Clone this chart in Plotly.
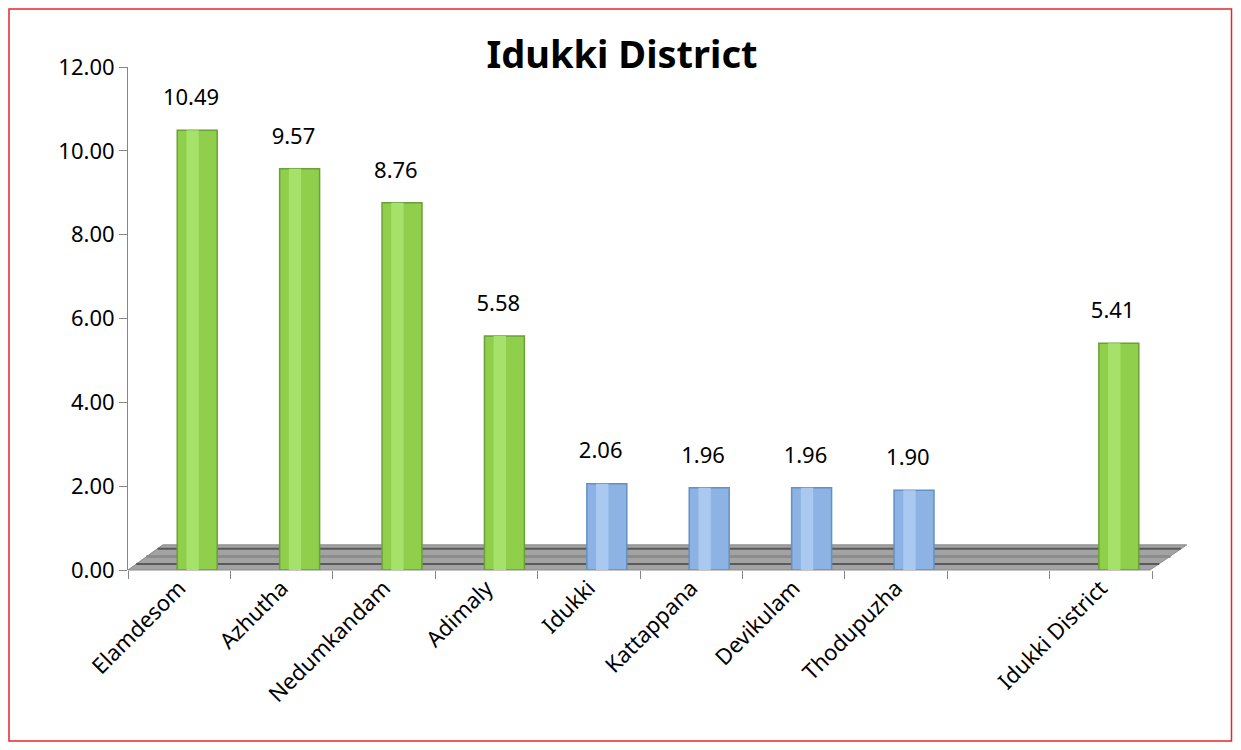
import plotly.graph_objects as go

categories = ["Elamdesom", "Azhutha", "Nedumkandam", "Adimaly", "Idukki",
              "Kattappana", "Devikulam", "Thodupuzha", " ", "Idukki District"]
values = [10.49, 9.57, 8.76, 5.58, 2.06, 1.96, 1.96, 1.90, None, 5.41]
groups = ["high", "high", "high", "high", "low", "low", "low", "low", "none", "high"]
y_ticks = [0, 2, 4, 6, 8, 10, 12]

fill = {"high": "#8fcf4c", "low": "#8cb3e3", "none": "#ffffff"}
shine = {"high": "#a6e26a", "low": "#a9c9f0", "none": "#ffffff"}
edge = {"high": "#6c9f38", "low": "#6590c4", "none": "#ffffff"}

labels = [f"{v:.2f}" if v is not None else "" for v in values]

FONT = "Noto Sans"
W, H = 1225, 734
L, T, PW, PH = 120, 59, 1024, 503
R, B = W - L - PW, H - T - PH
DEPTH = 0.176  # pseudo-3D shift of bars to the right (category units)

fig = go.Figure()
fig.add_trace(go.Bar(
    x=categories, y=values, width=0.39, offset=DEPTH - 0.195,
    marker=dict(color=[fill[g] for g in groups],
                line=dict(color=[edge[g] for g in groups], width=1.5)),
    hoverinfo="skip",
))
fig.add_trace(go.Bar(
    x=categories, y=values, width=0.12, offset=DEPTH - 0.105,
    marker=dict(color=[shine[g] for g in groups], line=dict(width=0)),
    hoverinfo="skip",
))
# data labels (raised above the cylinder caps)
fig.add_trace(go.Scatter(
    x=[i + DEPTH - 0.06 for i in range(len(categories))], y=values,
    xaxis="x2", mode="markers+text", text=labels, textposition="top center",
    marker=dict(size=30, opacity=0), cliponaxis=False,
    textfont=dict(family=FONT, size=22, color="#000000"),
    hoverinfo="skip",
))

def px(x):
    return (x - L) / PW

def py(y):
    return (T + PH - y) / PH

# decorative 3D-like floor
fig.add_shape(type="path", xref="paper", yref="paper",
              path="M 0 0 L 0.998 0 L 1.034 0.05 L 0.034 0.05 Z",
              fillcolor="#a3a3a3", line=dict(color="#8a8a8a", width=1), layer="below")
fig.add_shape(type="line", xref="paper", yref="paper",
              x0=0.008, y0=0.012, x1=1.007, y1=0.012,
              line=dict(color="#5a5a5a", width=2), layer="below")
fig.add_shape(type="line", xref="paper", yref="paper",
              x0=0.029, y0=0.042, x1=1.028, y1=0.042,
              line=dict(color="#5a5a5a", width=2), layer="below")
fig.add_shape(type="line", xref="paper", yref="paper",
              x0=0.018, y0=0.027, x1=1.018, y1=0.027,
              line=dict(color="#8c8c8c", width=3), layer="below")
# red frame
fig.add_shape(type="rect", xref="paper", yref="paper",
              x0=px(1), y0=py(733), x1=px(W - 1.5), y1=py(1),
              line=dict(color="#e8262a", width=1.5), layer="below")

fig.update_layout(
    width=W, height=H,
    margin=dict(l=L, r=R, t=T, b=B, autoexpand=False),
    paper_bgcolor="white", plot_bgcolor="white",
    showlegend=False, barmode="overlay",
    title=dict(text="<b>Idukki District</b>", x=614 / W, xanchor="center",
               y=1 - 47 / H, yanchor="middle",
               font=dict(family=FONT, size=38, color="#000000")),
    font=dict(family=FONT, size=22, color="#000000"),
    xaxis2=dict(overlaying="x", range=[-0.5, len(categories) - 0.5],
                visible=False, fixedrange=True),
)
fig.layout.xaxis.update(
    type="category", tickangle=-45, tickson="boundaries", automargin=False,
    ticks="outside", ticklen=8, tickcolor="#868686",
    showline=False, showgrid=False,
    tickfont=dict(family=FONT, size=22, color="#000000"),
)
fig.update_yaxes(
    range=[0, 12], tickvals=y_ticks, ticktext=[f"{t:.2f}" for t in y_ticks],
    ticks="outside", ticklen=8, tickcolor="#868686", automargin=False,
    showline=True, linecolor="#868686", linewidth=1,
    showgrid=False, zeroline=False,
    tickfont=dict(family=FONT, size=22, color="#000000"),
)

fig.write_html("out.html")
